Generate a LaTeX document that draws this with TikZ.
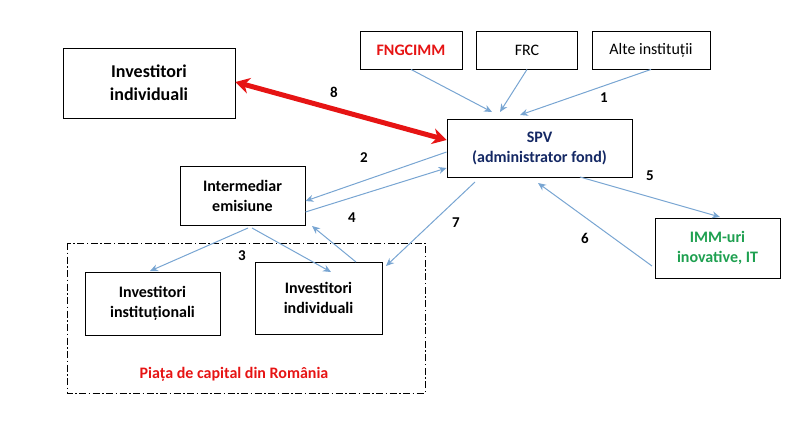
\documentclass[tikz,border=0pt]{standalone}
\usepackage{fontspec}
\setmainfont{Carlito}
\usetikzlibrary{arrows.meta}
\definecolor{ab}{RGB}{120,165,210}
\definecolor{rd}{RGB}{230,20,20}
\definecolor{nv}{RGB}{20,40,100}
\definecolor{gr}{RGB}{30,160,80}
\begin{document}
\begin{tikzpicture}[x=1pt,y=-1pt,
 box/.style={draw=black,line width=0.9pt,fill=white,align=center,font=\bfseries\fontsize{16}{20}\selectfont,inner sep=0pt},
 ar/.style={draw=ab,line width=1pt,-{Stealth[length=8pt,width=7pt]}},
 lb/.style={font=\bfseries\fontsize{15}{17}\selectfont}]
\useasboundingbox (0,0) rectangle (800,421);
\draw[line width=1pt,dash pattern=on 7pt off 2.5pt on 1.5pt off 2.5pt] (67,243) rectangle (425,393);
\node[box,minimum width=172pt,minimum height=70pt,font=\bfseries\fontsize{18}{23}\selectfont] (ii) at (149,83) {Investitori\\individuali};
\node[box,minimum width=102pt,minimum height=38pt,text=rd] (fn) at (411,50) {FNGCIMM};
\node[box,minimum width=101pt,minimum height=38pt,font=\fontsize{16}{20}\selectfont] (frc) at (527,50) {FRC};
\node[box,minimum width=118pt,minimum height=38pt,font=\fontsize{16}{20}\selectfont] (alte) at (651,50) {Alte instituții};
\node[box,minimum width=185pt,minimum height=58pt,text=nv] (spv) at (539.5,148) {SPV\\(administrator fond)};
\node[box,minimum width=125pt,minimum height=59pt] (int) at (242.5,195.5) {Intermediar\\emisiune};
\node[box,minimum width=125pt,minimum height=60pt,text=gr] (imm) at (717.5,248) {IMM-uri\\inovative, IT};
\node[box,minimum width=135pt,minimum height=63pt] (inst) at (152.5,303.5) {Investitori\\instituționali};
\node[box,minimum width=127pt,minimum height=72pt] (ind) at (318.5,298) {Investitori\\individuali};
\node[font=\bfseries\fontsize{16}{20}\selectfont,text=rd] (pc) at (234,374) {Piața de capital din România};
\draw[ar] (fn.south) -- (492,112);
\draw[ar] (frc.south) -- (500,112);
\draw[ar] (alte.south) -- (520,115);
\node[lb] (l1) at (604,98) {1};
\draw[rd,line width=5pt,{Stealth[length=14pt,width=16pt]}-{Stealth[length=14pt,width=16pt]}] (ii.east |- 0,82) -- (spv.west |- 0,140);
\node[lb] (l8) at (334,92) {8};
\draw[ar] (spv.west |- 0,152) -- (int.east |- 0,201);
\node[lb] (l2) at (364,158) {2};
\draw[ar] (int.east |- 0,212) -- (spv.west |- 0,168);
\draw[ar] (356,262) -- (312,226);
\node[lb] (l4) at (352,218) {4};
\draw[ar] (580,177) -- (720,217);
\node[lb] (l5) at (650,176) {5};
\draw[ar] (652,266) -- (538,183);
\node[lb] (l6) at (585,238) {6};
\draw[ar] (475,182) -- (386,266);
\node[lb] (l7) at (456,223) {7};
\draw[ar] (248,228) -- (150,271);
\draw[ar] (252,228) -- (331,272);
\node[lb] (l3) at (242,256) {3};
\end{tikzpicture}
\end{document}
